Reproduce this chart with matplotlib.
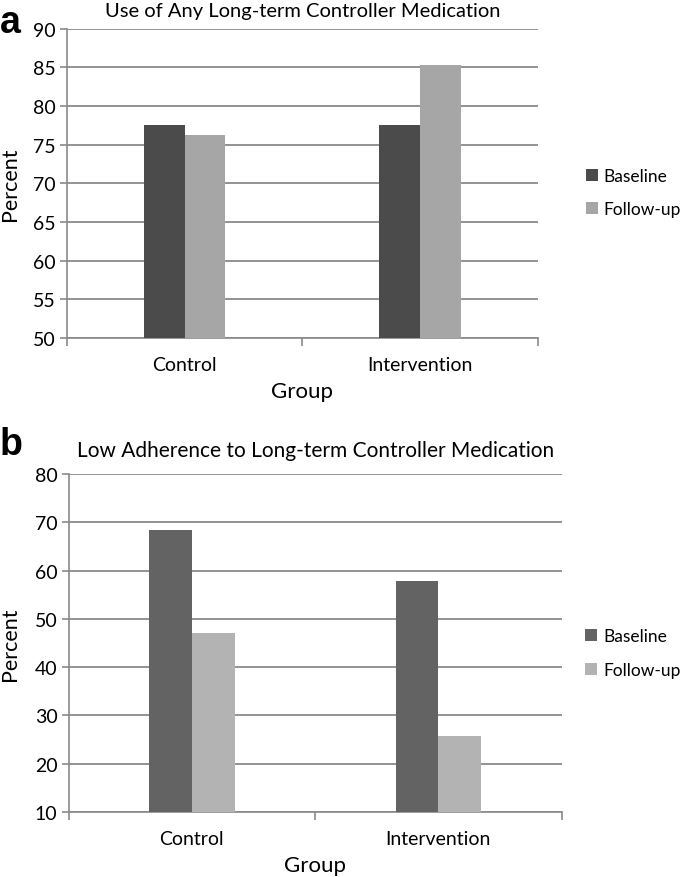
import matplotlib
matplotlib.use("Agg")
import matplotlib.pyplot as plt
import numpy as np

plt.rcParams['font.family'] = ['Lato', 'DejaVu Sans']

groups = ["Control", "Intervention"]
series = ["Baseline", "Follow-up"]
a_baseline = [77.5, 77.5]
a_followup = [76.2, 85.3]
b_baseline = [68.4, 57.9]
b_followup = [47.0, 25.7]
a_ticks = [50, 55, 60, 65, 70, 75, 80, 85, 90]
b_ticks = [10, 20, 30, 40, 50, 60, 70, 80]

fig = plt.figure(figsize=(6.8, 8.78), dpi=100)

def panel(rect, base, foll, ticks, title, letter, colors, letter_y, leg_x, title_pad, title_size, ylab_x):
    ax = fig.add_axes(rect)
    x = np.arange(len(groups))
    w = 0.173
    ax.bar(x - w / 2, [v - ticks[0] for v in base], w, bottom=ticks[0], color=colors[0], label=series[0], zorder=3)
    ax.bar(x + w / 2, [v - ticks[0] for v in foll], w, bottom=ticks[0], color=colors[1], label=series[1], zorder=3)
    ax.set_xlim(-0.5, 1.5)
    ax.set_ylim(ticks[0], ticks[-1])
    ax.set_yticks(ticks)
    ax.yaxis.grid(True, color='#8a8a8a', linewidth=1.3, zorder=0)
    ax.set_xticks([-0.5, 0.5, 1.5])
    ax.set_xticklabels([])
    ax.set_xticks(x, minor=True)
    ax.set_xticklabels(groups, minor=True, fontsize=14)
    ax.tick_params(axis='x', which='major', length=6, color='#8a8a8a', width=1.2)
    ax.tick_params(axis='x', which='minor', length=0, pad=13)
    ax.tick_params(axis='y', length=5, color='#8a8a8a', width=1.2, labelsize=14, pad=3)
    for s in ['top', 'right']:
        ax.spines[s].set_visible(False)
    for s in ['left', 'bottom']:
        ax.spines[s].set_color('#8a8a8a')
        ax.spines[s].set_linewidth(1.2)
    ax.set_xlabel("Group", fontsize=16, labelpad=6)
    ax.set_ylabel("Percent", fontsize=15.5)
    ax.yaxis.set_label_coords(ylab_x, 0.5)
    ax.set_title(title, fontsize=title_size, pad=title_pad)
    ax.legend(loc='center left', bbox_to_anchor=(leg_x, 0.47), frameon=False, fontsize=12.5,
              handlelength=0.7, handleheight=0.7, handletextpad=0.35, labelspacing=1.0)
    fig.text(0.0, letter_y, letter, fontsize=27, fontweight='bold', family='Liberation Sans', va='baseline')
    return ax

panel([0.0985, 0.614, 0.6925, 0.352], a_baseline, a_followup, a_ticks,
      "Use of Any Long-term Controller Medication", "a", ['#4b4b4b', '#a6a6a6'], 0.9624, 1.068, 9, 14.5, -0.10)
panel([0.101, 0.074, 0.725, 0.385], b_baseline, b_followup, b_ticks,
      "Low Adherence to Long-term Controller Medication", "b", ['#636363', '#b3b3b3'], 0.4818, 1.015, 13, 15, -0.099)

fig.savefig("out.png", dpi=100)
